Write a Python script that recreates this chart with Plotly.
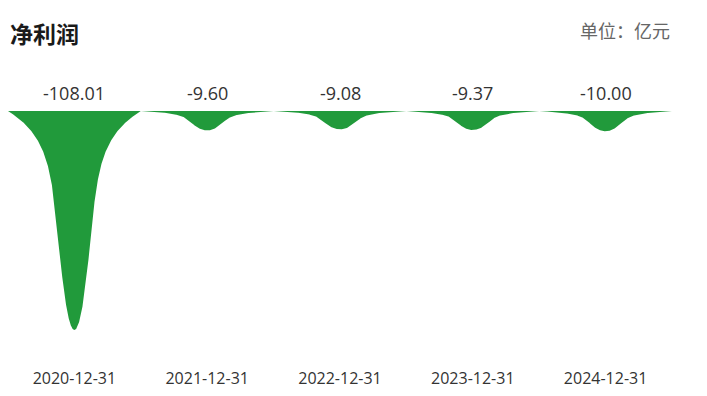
import numpy as np
import plotly.graph_objects as go

categories = ["2020-12-31", "2021-12-31", "2022-12-31", "2023-12-31", "2024-12-31"]
net_profit = [-108.01, -9.60, -9.08, -9.37, -10.00]
title_text = "净利润"
unit_text = "单位：亿元"

GREEN = "#219a3b"

# spike profile (style): half-width fraction as function of depth fraction
s = np.linspace(0, 1, 400)
u = 0.5 - 0.5 * np.cos(np.pi * s)
half = np.sqrt(np.clip(1 - u, 0, None)) * (0.37 + 0.63 * np.exp(-u / 0.13))

fig = go.Figure()
for i, v in enumerate(net_profit):
    xr = i + 0.5 * half
    xl = i - 0.5 * half
    xs = np.concatenate([xr, xl[::-1]])
    ys = np.concatenate([v * u, (v * u)[::-1]])
    fig.add_trace(go.Scatter(
        x=xs, y=ys, mode="lines", fill="toself", fillcolor=GREEN,
        line=dict(color=GREEN, width=0), hoverinfo="skip", showlegend=False,
    ))

W, H = 707, 396
ml, mr, mt, mb = 0, 43, 103, 37
plot_h = H - mt - mb
tip_px = 330 - 111
ymin = min(net_profit) * plot_h / tip_px

annotations = []
for i, v in enumerate(net_profit):
    annotations.append(dict(
        x=i, y=0, xref="x", yref="y", text=f"{v:.2f}", showarrow=False,
        yanchor="middle", xanchor="center", yshift=18,
        font=dict(family="Open Sans, Noto Sans CJK SC", size=18, color="#333333"),
    ))
annotations.append(dict(
    x=0, y=1, xref="paper", yref="paper", text=f"<b>{title_text}</b>", showarrow=False,
    xanchor="left", yanchor="middle", yshift=78,
    font=dict(family="Noto Sans CJK SC", size=23, color="#1a1a1a"),
))
annotations.append(dict(
    x=1, y=1, xref="paper", yref="paper", text=unit_text, showarrow=False,
    xanchor="right", yanchor="middle", yshift=81,
    font=dict(family="Noto Sans CJK SC", size=18, color="#666666"),
))

fig.update_layout(
    width=W, height=H,
    margin=dict(l=ml, r=mr, t=mt, b=mb),
    paper_bgcolor="white", plot_bgcolor="white",
    xaxis=dict(
        range=[-0.5, len(categories) - 0.5], tickmode="array",
        tickvals=list(range(len(categories))), ticktext=categories,
        showgrid=False, zeroline=False, showline=False, ticks="",
        tickfont=dict(family="Open Sans, Noto Sans CJK SC", size=16, color="#333333"),
        fixedrange=True,
    ),
    yaxis=dict(
        range=[ymin, 0], showgrid=False, zeroline=False, showline=False,
        showticklabels=False, ticks="", fixedrange=True,
    ),
    annotations=annotations,
    showlegend=False,
)

fig.write_html("out.html")
